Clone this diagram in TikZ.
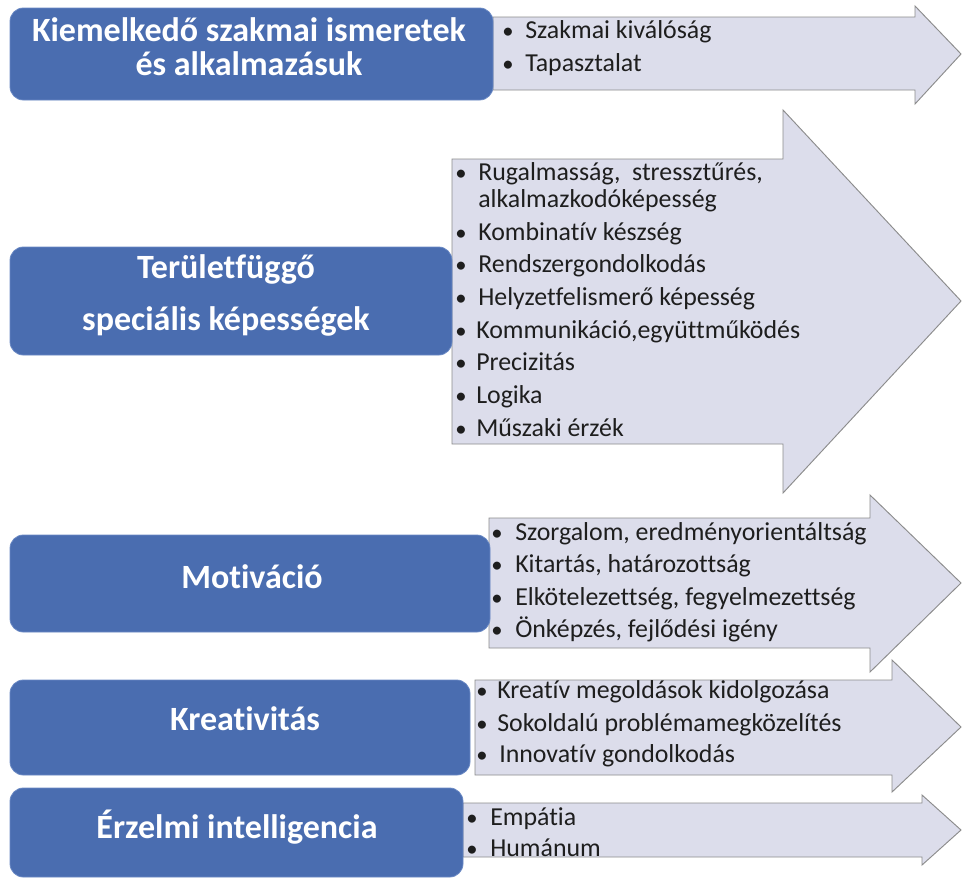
\documentclass[tikz,border=0pt]{standalone}
\usepackage{fontspec}
\setmainfont{Carlito}[Ligatures={NoCommon,NoContextual,NoRare},Contextuals=NoAlternate]
\definecolor{boxblue}{HTML}{4A6DB0}
\definecolor{boxedge}{HTML}{6A89C4}
\definecolor{arrowfill}{HTML}{DCDDEB}
\definecolor{arrowline}{HTML}{8C8C8C}
\definecolor{txt}{HTML}{1E1E1E}
\tikzset{
  boxstyle/.style={fill=boxblue, draw=boxedge, line width=0.6pt, rounded corners=10pt},
  arrowstyle/.style={fill=arrowfill, draw=arrowline, line width=0.7pt, line join=miter},
  title/.style={text=white, font=\bfseries\fontsize{25.5}{30}\selectfont, inner sep=0pt, anchor=mid},
  item/.style={text=txt, font=\fontsize{19.4}{23}\selectfont, inner sep=0pt, anchor=mid west},
  dot/.style={text=txt, font=\fontsize{17}{22}\selectfont, inner sep=0pt, anchor=mid west}
}
\newcommand{\itm}[5]{%
  \node[dot] (#1d) at (#2,#4) {\textbullet};
  \node[item] (#1) at (#3,#4) {#5};}
\begin{document}
\begin{tikzpicture}[x=0.75pt,y=-0.75pt]
\useasboundingbox (0,0) rectangle (963,879);
\fill[white] (0,0) rectangle (963,879);
% arrows
\draw[arrowstyle] (493,17) -- (915,17) -- (915,6) -- (961,54) -- (915,104) -- (915,90) -- (493,90) -- cycle;
\draw[arrowstyle] (452,159) -- (783,159) -- (783,110) -- (961,301) -- (783,493) -- (783,444) -- (452,444) -- cycle;
\draw[arrowstyle] (489,518) -- (870,518) -- (870,495) -- (961,583) -- (870,672) -- (870,648) -- (489,648) -- cycle;
\draw[arrowstyle] (475,680) -- (892,680) -- (892,660) -- (961,727) -- (892,792) -- (892,775) -- (475,775) -- cycle;
\draw[arrowstyle] (463,803) -- (922,803) -- (922,795) -- (961,830) -- (922,865) -- (922,857) -- (463,857) -- cycle;
% boxes
\draw[boxstyle] (10,8) rectangle (493,100);
\draw[boxstyle] (10,247) rectangle (452,355);
\draw[boxstyle] (10,535) rectangle (490,632);
\draw[boxstyle] (10,680) rectangle (470,775);
\draw[boxstyle] (10,788) rectangle (463,877);
% titles
\node[title] (t1a) at (249,38) {Kiemelkedő szakmai ismeretek};
\node[title] (t1b) at (249,72) {és alkalmazásuk};
\node[title] (t2a) at (226,275) {Területfüggő};
\node[title] (t2b) at (226,327) {speciális képességek};
\node[title] (t3) at (252,585) {Motiváció};
\node[title] (t4) at (245,727) {Kreativitás};
\node[title] (t5) at (237,835) {Érzelmi intelligencia};
% items
\itm{a1}{502}{525}{35}{Szakmai kiválóság}
\itm{a2}{502}{525}{68}{Tapasztalat}
\itm{b1}{455}{478}{177}{Rugalmasság,\ \ stressztűrés,}
\node[item] (b1x) at (478,204) {alkalmazkodóképesség};
\itm{b2}{455}{478}{237}{Kombinatív készség}
\itm{b3}{455}{478}{269}{Rendszergondolkodás}
\itm{b4}{455}{478}{302}{Helyzetfelismerő képesség}
\itm{b5}{455}{476}{335}{Kommunikáció,együttműködés}
\itm{b6}{455}{476}{367}{Precizitás}
\itm{b7}{455}{476}{400}{Logika}
\itm{b8}{455}{476}{433}{Műszaki érzék}
\itm{c1}{491}{515}{537}{Szorgalom, eredményorientáltság}
\itm{c2}{491}{515}{569}{Kitartás, határozottság}
\itm{c3}{491}{515}{602}{Elkötelezettség, fegyelmezettség}
\itm{c4}{491}{515}{634}{Önképzés, fejlődési igény}
\itm{d1}{476}{497}{695}{Kreatív megoldások kidolgozása}
\itm{d2}{476}{497}{728}{Sokoldalú problémamegközelítés}
\itm{d3}{476}{499}{759}{Innovatív gondolkodás}
\itm{e1}{466}{490}{822}{Empátia}
\itm{e2}{466}{490}{853}{Humánum}
\end{tikzpicture}
\end{document}
